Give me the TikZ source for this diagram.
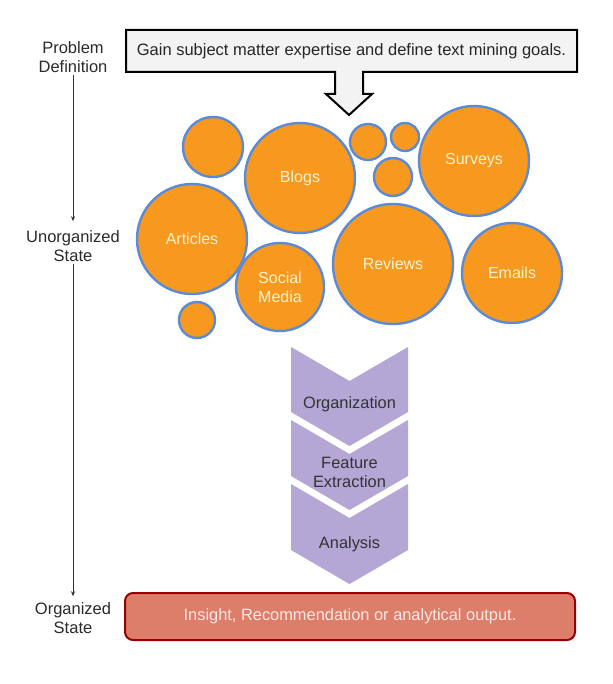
\documentclass[tikz,border=0pt]{standalone}
\usepackage{fontspec}
\setmainfont{Liberation Sans}
\usetikzlibrary{arrows.meta}
\definecolor{bubfill}{HTML}{F7991F}
\definecolor{bubline}{HTML}{5B8BD7}
\definecolor{bubtext}{HTML}{FFF2CC}
\definecolor{chevfill}{HTML}{B4A7D6}
\definecolor{outfill}{HTML}{DD7E6B}
\definecolor{outline}{HTML}{990000}
\definecolor{outtext}{HTML}{FCE8E2}
\definecolor{goalfill}{HTML}{F3F3F3}
\definecolor{labtext}{HTML}{2B2B2B}
\tikzset{
  bub/.style={circle, draw=bubline, fill=bubfill, line width=2.4pt, inner sep=0pt,
    text=bubtext, align=center, font=\fontsize{16}{19}\selectfont},
  chevshape/.style={fill=chevfill},
  chevtext/.style={text=black!80, align=center, font=\fontsize{16.4}{19}\selectfont},
  sidelab/.style={text=labtext, align=center, font=\fontsize{16.5}{19}\selectfont, inner sep=2pt},
  sidearrow/.style={draw=black!80, line width=0.8pt, -{Stealth[length=5pt,width=4pt]}},
}
\newcommand\mychev[2]{%
  \fill[chevshape] (291,#1) -- (349.5,{#1+34}) -- (408,#1) -- (408,#2) -- (349.5,{#2+34}) -- (291,#2) -- cycle;}
\begin{document}
\begin{tikzpicture}[x=1pt,y=-1pt]
\useasboundingbox (0,0) rectangle (612,684);
\fill[white] (0,0) rectangle (612,684);

% callout box with arrow
\draw[fill=goalfill, line width=2pt, line join=miter]
  (126,30) -- (577,30) -- (577,72) -- (363,72) -- (363,94) -- (372,94) -- (349,115)
  -- (326,94) -- (335,94) -- (335,72) -- (126,72) -- cycle;
\node[text=black!85, font=\fontsize{16.5}{19}\selectfont] (goal) at (351.5,51) {Gain subject matter expertise and define text mining goals.};

% bubbles
\node[bub, minimum size=60pt] (s1) at (213,147) {};
\node[bub, minimum size=110pt] (blogs) at (300,178) {Blogs};
\node[bub, minimum size=36pt] (s2) at (368,142) {};
\node[bub, minimum size=28pt] (s3) at (405,137) {};
\node[bub, minimum size=38pt] (s4) at (393,177) {};
\node[bub, minimum size=110pt] (surveys) at (474,161) {Surveys};
\node[bub, minimum size=110pt] (articles) at (192,239) {Articles};
\node[bub, minimum size=88pt] (social) at (280,287) {Social\\Media};
\node[bub, minimum size=120pt] (reviews) at (393,264) {Reviews};
\node[bub, minimum size=100pt] (emails) at (512,273) {Emails};
\node[bub, minimum size=36pt] (s5) at (197,320) {};

% chevrons
\mychev{347}{412}
\mychev{420}{476}
\mychev{484}{550}
\node[chevtext] (org) at (349.5,404) {Organization};
\node[chevtext] (feat) at (349.5,472) {Feature\\Extraction};
\node[chevtext] (ana) at (349.5,544) {Analysis};

% output box
\node[draw=outline, fill=outfill, line width=2pt, rounded corners=8pt,
  minimum width=450pt, minimum height=47pt, text=outtext,
  font=\fontsize{16.4}{19}\selectfont] (out) at (350,616.5) {Insight, Recommendation or analytical output.};

% side labels
\node[sidelab] (pd) at (73,57) {Problem\\Definition};
\node[sidelab] (us) at (73,246) {Unorganized\\State};
\node[sidelab] (os) at (73,618) {Organized\\State};
\draw[sidearrow, shorten >=7pt] (pd) -- (us);
\draw[sidearrow, shorten >=4pt] (us) -- (os);
\end{tikzpicture}
\end{document}
